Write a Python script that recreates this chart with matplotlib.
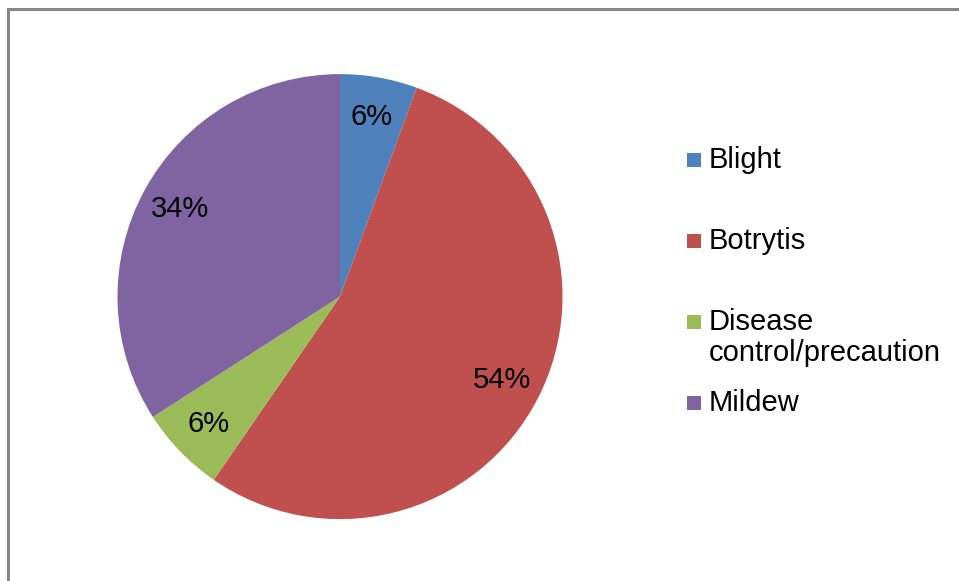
import matplotlib
matplotlib.use('Agg')
import matplotlib.pyplot as plt
from matplotlib.patches import Rectangle

plt.rcParams['font.family'] = ['Liberation Sans', 'DejaVu Sans']

# data (shares, labels show rounded percentages)
labels = ['Blight', 'Botrytis', 'Disease\ncontrol/precaution', 'Mildew']
values = [5.6, 54.0, 6.3, 34.1]
colors = ['#4F81BD', '#C0504D', '#9BBB59', '#8064A2']

W, H = 959, 581
fig = plt.figure(figsize=(W / 100, H / 100), dpi=100)

# outer chart frame (only top and left edges visible)
fig.add_artist(Rectangle((7.5 / W, -0.1), 2, 1.1 - 8.5 / H, transform=fig.transFigure,
                         fill=False, edgecolor='#878787', linewidth=2.2))

# pie axes: centre (340, 296.6) px, radius 222.5 px
cx, cy, r = 340, 296.6, 222.5
ax = fig.add_axes([(cx - r) / W, (H - cy - r) / H, 2 * r / W, 2 * r / H])
wedges, texts, autotexts = ax.pie(values, colors=colors, startangle=90, counterclock=False,
                                  autopct='%1.0f%%', pctdistance=0.82,
                                  wedgeprops=dict(linewidth=0),
                                  textprops=dict(fontsize=21, color='black'))
ax.set_xlim(-1, 1)
ax.set_ylim(-1, 1)
ax.set_aspect('auto')
ax.axis('off')

# legend, laid out like the original (square + label)
leg_y = [160, 241, 322, 403]
for lab, col, y in zip(labels, colors, leg_y):
    fig.add_artist(Rectangle((687 / W, 1 - (y + 7) / H), 14 / W, 14 / H,
                             transform=fig.transFigure, facecolor=col, edgecolor='none'))
    if '\n' in lab:
        fig.text(709 / W, 1 - (y + 15.5) / H, lab, fontsize=21, va='center', ha='left',
                 linespacing=1.15)
    else:
        fig.text(709 / W, 1 - y / H, lab, fontsize=21, va='center', ha='left')

fig.savefig('out.png', dpi=100)
